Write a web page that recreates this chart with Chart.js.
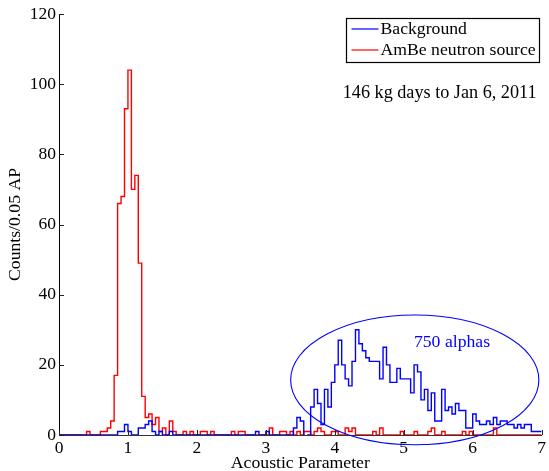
<!DOCTYPE html>
<html>
<head>
<meta charset="utf-8">
<script src="https://cdn.jsdelivr.net/npm/chart.js@4.4.1/dist/chart.umd.min.js"></script>
<style>
html,body{margin:0;padding:0;background:#fff;}
#wrap{width:549px;height:471px;}
</style>
</head>
<body>
<div id="wrap"><canvas id="c" width="549" height="471"></canvas></div>
<script>
// ---- data ----
const BIN_WIDTH = 0.05;                 // histogram bin width (AP units)
const X_RANGE = [0, 7];
const Y_RANGE = [0, 120];
const X_TICKS = [0, 1, 2, 3, 4, 5, 6, 7];
const Y_TICKS = [0, 20, 40, 60, 80, 100, 120];
const SERIES_NAMES = ['Background', 'AmBe neutron source'];
const X_TITLE = 'Acoustic Parameter';
const Y_TITLE = 'Counts/0.05 AP';
const NOTE_EXPOSURE = '146 kg days to Jan 6, 2011';
const NOTE_ALPHAS = '750 alphas';

// counts per 0.05 AP bin, bins starting at 0.00, 0.05, ... 6.95
const backgroundCounts = [
  0,0,0,0,0, 0,0,0,0,0, 0,0,0,0,0, 0,0,1,1,3,
  1,0,0,2,2, 3,4,1,0,1, 0,0,1,0,0, 0,0,0,0,0,
  0,0,0,0,0, 0,0,0,0,0, 0,0,0,0,0, 0,0,1,0,0,
  1,0,0,0,0, 0,0,0,2,5, 4,0,0,8,13, 9,3,13,8,15,
  20,27,20,16,14, 21,30,26,24,22, 21,21,21,16,25, 20,15,15,19,16,
  16,16,12,20,18, 10,13,7,12,4, 4,13,7,8,6, 9,7,7,2,2,
  6,4,3,3,4, 3,5,3,4,4, 3,3,2,3,2, 3,3,1,1,1
];
const ambeCounts = [
  0,0,0,0,0, 0,0,0,1,0, 0,0,1,1,2, 4,17,66,68,93,
  104,70,74,49,11, 5,6,3,5,1, 2,0,4,1,0, 0,1,0,1,0,
  0,1,1,0,1, 0,0,0,0,0, 1,0,1,1,0, 0,0,0,0,0,
  0,2,0,0,1, 1,0,1,0,1, 0,1,1,0,1, 2,1,0,0,1,
  1,0,0,2,1, 2,0,0,0,0, 0,1,0,2,0, 0,0,0,0,1,
  0,0,0,1,0, 0,0,1,2,0, 0,1,0,0,0, 0,0,1,0,1,
  0,0,0,0,0, 0,2,0,0,0, 0,0,0,0,0, 0,0,0,0,0
];

// annotation ellipse around the alpha population (data units)
const ALPHA_ELLIPSE = {cx: 5.16, cy: 15.7, rx: 1.80, ry: 18.5};
const NOTE_EXPOSURE_POS = {x: 4.115, y: 97.3};
const NOTE_ALPHAS_POS = {x: 5.70, y: 26.3};

// ---- build step-histogram points from bins ----
function toSteps(counts) {
  const pts = counts.map((c, i) => ({x: +(i * BIN_WIDTH).toFixed(2), y: c}));
  pts.push({x: X_RANGE[1], y: counts[counts.length - 1]});
  return pts;
}

const FONT = 'Liberation Serif, Times New Roman, serif';
const BLUE = '#0000ff';
const RED = '#ff0000';

const overlay = {
  id: 'overlay',
  afterDraw(chart) {
    const {ctx, chartArea: a, scales: {x, y}} = chart;
    ctx.save();
    // inward tick marks
    ctx.strokeStyle = '#222';
    ctx.lineWidth = 1;
    Y_TICKS.forEach(v => {
      const py = Math.round(y.getPixelForValue(v)) + 0.5;
      ctx.beginPath(); ctx.moveTo(a.left, py); ctx.lineTo(a.left + 5, py); ctx.stroke();
    });
    X_TICKS.forEach(v => {
      const px = Math.round(x.getPixelForValue(v)) + 0.5;
      ctx.beginPath(); ctx.moveTo(px, a.bottom); ctx.lineTo(px, a.bottom - 5); ctx.stroke();
    });
    // ellipse
    const e = ALPHA_ELLIPSE;
    const ecx = x.getPixelForValue(e.cx), ecy = y.getPixelForValue(e.cy);
    const erx = x.getPixelForValue(e.cx + e.rx) - ecx;
    const ery = ecy - y.getPixelForValue(e.cy + e.ry);
    ctx.strokeStyle = BLUE; ctx.lineWidth = 1.1;
    ctx.beginPath(); ctx.ellipse(ecx, ecy, erx, ery, 0, 0, Math.PI * 2); ctx.stroke();
    // texts
    ctx.textBaseline = 'middle';
    ctx.font = '18.2px ' + FONT;
    ctx.fillStyle = '#000'; ctx.textAlign = 'left';
    ctx.fillText(NOTE_EXPOSURE, x.getPixelForValue(NOTE_EXPOSURE_POS.x), y.getPixelForValue(NOTE_EXPOSURE_POS.y));
    ctx.font = '17.7px ' + FONT;
    ctx.fillStyle = BLUE; ctx.textAlign = 'center';
    ctx.fillText(NOTE_ALPHAS, x.getPixelForValue(NOTE_ALPHAS_POS.x), y.getPixelForValue(NOTE_ALPHAS_POS.y));
    // legend box
    ctx.font = '17.7px ' + FONT;
    const bx1 = a.right - 3, by0 = a.top + 3.5;
    const bx0 = 346, by1 = by0 + 44;
    ctx.fillStyle = '#fff';
    ctx.fillRect(bx0, by0, bx1 - bx0, by1 - by0);
    ctx.strokeStyle = '#000'; ctx.lineWidth = 1.2;
    ctx.strokeRect(Math.round(bx0) + 0.5, Math.round(by0) + 0.5, Math.round(bx1 - bx0), Math.round(by1 - by0));
    ctx.textAlign = 'left';
    chart.data.datasets.forEach((ds, i) => {
      const ly = by0 + 11.5 + i * 21;
      ctx.strokeStyle = ds.borderColor; ctx.lineWidth = 1.2;
      ctx.beginPath(); ctx.moveTo(bx0 + 5.5, ly); ctx.lineTo(bx0 + 32.5, ly); ctx.stroke();
      ctx.fillStyle = '#000';
      ctx.fillText(ds.label, bx0 + 34.5, ly + 0.5);
    });
    ctx.restore();
  }
};

new Chart(document.getElementById('c'), {
  type: 'line',
  data: {
    datasets: [
      {
        label: SERIES_NAMES[0],
        data: toSteps(backgroundCounts),
        borderColor: BLUE,
        borderWidth: 1.4,
        stepped: true,
        pointRadius: 0,
        fill: false,
        segment: {
          borderColor: c => (c.p0.parsed.y === 0 && c.p1.parsed.y === 0 && c.p0.parsed.x >= 3.35) ? 'rgba(0,0,0,0)' : undefined
        }
      },
      {
        label: SERIES_NAMES[1],
        data: toSteps(ambeCounts),
        borderColor: RED,
        borderWidth: 1.4,
        stepped: true,
        pointRadius: 0,
        fill: false
      }
    ]
  },
  options: {
    responsive: false,
    animation: false,
    devicePixelRatio: 1,
    layout: {padding: {top: 14, right: 7, left: 0, bottom: 0}},
    plugins: {legend: {display: false}, tooltip: {enabled: false}},
    scales: {
      x: {
        type: 'linear', min: X_RANGE[0], max: X_RANGE[1],
        afterBuildTicks: s => { s.ticks = X_TICKS.map(v => ({value: v})); },
        afterFit: s => { s.height = 36; },
        grid: {display: false, drawTicks: false},
        border: {display: true, color: '#333', width: 1},
        ticks: {color: '#000', padding: 3, font: {family: FONT, size: 17.5}, maxRotation: 0},
        title: {display: true, text: X_TITLE, color: '#000', font: {family: FONT, size: 17.7, lineHeight: 0.85}, padding: {top: 0, bottom: 0}}
      },
      y: {
        min: Y_RANGE[0], max: Y_RANGE[1],
        afterBuildTicks: s => { s.ticks = Y_TICKS.map(v => ({value: v})); },
        afterFit: s => { s.width = 59; },
        grid: {display: false, drawTicks: false},
        border: {display: true, color: '#000', width: 1},
        ticks: {color: '#000', padding: 3, font: {family: FONT, size: 17.5}},
        title: {display: true, text: Y_TITLE, color: '#000', font: {family: FONT, size: 17.7, lineHeight: 1.2}, padding: {top: 4.5, bottom: 0}}
      }
    }
  },
  plugins: [overlay]
});
</script>
</body>
</html>
